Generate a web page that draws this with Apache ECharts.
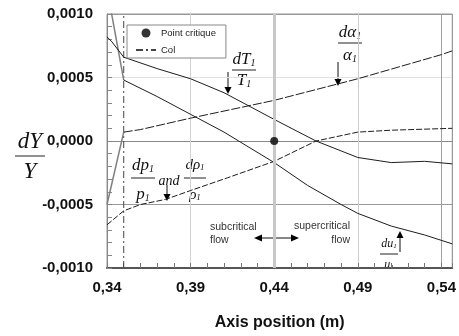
<!DOCTYPE html>
<html>
<head>
<meta charset="utf-8">
<script src="https://cdn.jsdelivr.net/npm/echarts@6/dist/echarts.min.js"></script>
<style>
  html, body { margin: 0; padding: 0; background: #fff; }
  #chart { width: 459px; height: 336px; }
</style>
</head>
<body>
<div id="chart"></div>
<script>
// axial position (m) and relative variation dY/Y for each quantity
const posDu = [0.34, 0.35, 0.37, 0.39, 0.41, 0.44, 0.46, 0.48, 0.49, 0.51, 0.53, 0.5465];
const valDu = [0.0012, 0.00048, 0.00035, 0.00021, 0.00007, -0.00017, -0.00035, -0.0005, -0.00057, -0.00067, -0.00074, -0.00081];

const posDt = [0.34, 0.343, 0.35, 0.37, 0.39, 0.41, 0.44, 0.465, 0.49, 0.51, 0.53, 0.5465];
const valDt = [0.00082, 0.00078, 0.00066, 0.00057, 0.00049, 0.00038, 0.00017, 0.0, -0.00013, -0.00017, -0.00016, -0.00018];

const posDa = [0.34, 0.35, 0.36, 0.39, 0.44, 0.49, 0.54, 0.5465];
const valDa = [-0.0005, 0.00007, 0.00009, 0.00018, 0.00032, 0.00049, 0.00068, 0.00071];

const posDp = [0.34, 0.35, 0.36, 0.375, 0.39, 0.412, 0.44, 0.465, 0.49, 0.51, 0.5465];
const valDp = [-0.00066, -0.00055, -0.0005, -0.00046, -0.00039, -0.00029, -0.00016, 0.0, 0.00007, 0.000085, 0.0001];

const colX = 0.35;
const critPoint = [0.44, 0.0];

const xMin = 0.34, xMax = 0.5465, xStep = 0.05;
const yMin = -0.001, yMax = 0.001, yStep = 0.0005;

const chart = echarts.init(document.getElementById("chart"));

function pairs(xs, ys, from, to) {
  return xs.slice(from, to).map((x, i) => [x, ys.slice(from, to)[i]]);
}

const serif = '"Liberation Serif", "DejaVu Serif", serif';
const sans = '"Liberation Sans", Arial, sans-serif';

function subRich(size) {
  return {
    s: { fontSize: size, fontFamily: serif, fontStyle: "italic", verticalAlign: "bottom", fill: "#111" }
  };
}

// fraction label: numerator, bar, denominator
function frac(cx, numY, barY, denY, halfW, num, den, size) {
  const txt = (t, y) => ({
    type: "text", x: cx, y: y, silent: true,
    style: {
      text: t, fontSize: size, fontFamily: serif, fontStyle: "italic",
      align: "center", verticalAlign: "middle", fill: "#111",
      rich: subRich(Math.round(size * 0.6))
    }
  });
  return [
    txt(num, numY),
    { type: "line", silent: true, shape: { x1: cx - halfW, y1: barY, x2: cx + halfW, y2: barY }, style: { stroke: "#222", lineWidth: 1 } },
    txt(den, denY)
  ];
}

function arrowDown(x, y1, y2) {
  return [
    { type: "line", silent: true, shape: { x1: x, y1: y1, x2: x, y2: y2 - 6 }, style: { stroke: "#111", lineWidth: 1 } },
    { type: "polygon", silent: true, shape: { points: [[x - 3.5, y2 - 7], [x + 3.5, y2 - 7], [x, y2]] }, style: { fill: "#000" } }
  ];
}

function arrowUp(x, y1, y2) {
  return [
    { type: "line", silent: true, shape: { x1: x, y1: y1 + 6, x2: x, y2: y2 }, style: { stroke: "#111", lineWidth: 1 } },
    { type: "polygon", silent: true, shape: { points: [[x - 3.5, y1 + 7], [x + 3.5, y1 + 7], [x, y1]] }, style: { fill: "#000" } }
  ];
}

const curveStyle = { color: "#1e1e1e", width: 1 };
const entryStyle = { color: "#808080", width: 1.5 };

const graphics = [].concat(
  frac(30, 142, 156, 172, 15, "dY", "Y", 23),
  frac(244, 60, 70, 81, 12, "dT{s|1}", "T{s|1}", 17),
  arrowDown(228, 72, 94),
  frac(350, 33, 43, 56, 12, "d\u03b1{s|1}", "\u03b1{s|1}", 17),
  arrowDown(338, 62, 86),
  frac(143, 166, 178, 195, 12, "dp{s|1}", "p{s|1}", 17),
  frac(195, 165, 178, 195, 11, "d\u03c1{s|1}", "\u03c1{s|1}", 15),
  [{ type: "text", x: 169, y: 181, silent: true,
     style: { text: "and", fontSize: 14, fontFamily: serif, fontStyle: "italic", align: "center", verticalAlign: "middle", fill: "#111" } }],
  arrowDown(167, 185, 201),
  frac(389, 244, 254, 265, 9, "du{s|1}", "u{s|1}", 12),
  arrowUp(400, 231, 252),
  [
    { type: "text", x: 210, y: 227, silent: true,
      style: { text: "subcritical", fontSize: 10.5, fontFamily: sans, fill: "#333", align: "left", verticalAlign: "middle" } },
    { type: "text", x: 210, y: 240, silent: true,
      style: { text: "flow", fontSize: 10.5, fontFamily: sans, fill: "#333", align: "left", verticalAlign: "middle" } },
    { type: "text", x: 350, y: 226, silent: true,
      style: { text: "supercritical", fontSize: 10.5, fontFamily: sans, fill: "#333", align: "right", verticalAlign: "middle" } },
    { type: "text", x: 350, y: 240, silent: true,
      style: { text: "flow", fontSize: 10.5, fontFamily: sans, fill: "#333", align: "right", verticalAlign: "middle" } },
    { type: "line", silent: true, shape: { x1: 258, y1: 238, x2: 295, y2: 238 }, style: { stroke: "#111", lineWidth: 1 } },
    { type: "polygon", silent: true, shape: { points: [[254, 238], [262, 234.5], [262, 241.5]] }, style: { fill: "#000" } },
    { type: "polygon", silent: true, shape: { points: [[299, 238], [291, 234.5], [291, 241.5]] }, style: { fill: "#000" } }
  ]
);

chart.setOption({
  animation: false,
  backgroundColor: "#fff",
  grid: {
    left: 107, right: 0, top: 14, bottom: 61,
    show: true, borderColor: "#999", borderWidth: 1
  },
  legend: {
    data: [
      { name: "Point critique" },
      { name: "Col", itemStyle: { opacity: 0 } }
    ],
    orient: "vertical",
    left: 127, top: 25,
    itemWidth: 20, itemHeight: 9, itemGap: 7,
    padding: [3, 10, 3, 8],
    borderColor: "#888", borderWidth: 1, backgroundColor: "#fff",
    textStyle: { fontSize: 9.5, fontFamily: sans, color: "#222" }
  },
  xAxis: {
    type: "value",
    min: xMin, max: xMax, interval: xStep,
    name: "Axis position (m)",
    nameLocation: "middle", nameGap: 47,
    nameTextStyle: { fontSize: 16, fontWeight: "bold", fontFamily: sans, color: "#111" },
    axisLine: { show: true, onZero: false, lineStyle: { color: "#555", width: 2 } },
    axisTick: { show: true, inside: true, length: 5, lineStyle: { color: "#777" } },
    minorTick: { show: true, splitNumber: 5, length: 5, lineStyle: { color: "#777" } },
    axisLabel: {
      margin: 12, fontSize: 15, fontWeight: "bold", fontFamily: sans, color: "#111",
      formatter: v => v.toFixed(2).replace(".", ",")
    },
    splitLine: { show: true, lineStyle: { color: ["#999", "#d4d4d4", "#c8c8c8", "#cccccc", "#a0a0a0"], width: 1 } }
  },
  yAxis: {
    type: "value",
    min: yMin, max: yMax, interval: yStep,
    axisLine: { show: true, onZero: false, lineStyle: { color: "#888", width: 1 } },
    axisTick: { show: true, inside: true, length: 5, lineStyle: { color: "#888" } },
    minorTick: { show: true, splitNumber: 5, length: 5, lineStyle: { color: "#888" } },
    axisLabel: {
      margin: 14, fontSize: 15, fontWeight: "bold", fontFamily: sans, color: "#111",
      formatter: v => v.toFixed(4).replace(".", ",")
    },
    splitLine: { show: true, lineStyle: { color: ["#999", "#999", "#888", "#e2e2e2", "#999"], width: 1 } }
  },
  graphic: graphics,
  series: [
    {
      name: "Col",
      type: "line",
      data: [[colX, yMin], [colX, yMax]],
      symbol: "none",
      color: "#444",
      z: 2,
      lineStyle: { color: "#444", width: 1, type: [7, 3, 2, 3] },
      markLine: {
        silent: true, symbol: "none", label: { show: false },
        lineStyle: { color: "#c8c8c8", width: 3, type: "solid" },
        data: [{ xAxis: critPoint[0] }]
      }
    },
    { name: "du entry", type: "line", data: pairs(posDu, valDu, 0, 2), symbol: "none", z: 3, lineStyle: entryStyle },
    { name: "du/u", type: "line", data: pairs(posDu, valDu, 1), symbol: "none", z: 3, lineStyle: curveStyle },
    { name: "dT/T", type: "line", data: pairs(posDt, valDt, 0), symbol: "none", z: 3, lineStyle: curveStyle },
    { name: "da entry", type: "line", data: pairs(posDa, valDa, 0, 2), symbol: "none", z: 3, lineStyle: entryStyle },
    { name: "da/a", type: "line", data: pairs(posDa, valDa, 1), symbol: "none", z: 3,
      lineStyle: Object.assign({}, curveStyle, { type: [9, 2] }) },
    { name: "dp/p", type: "line", data: pairs(posDp, valDp, 0), symbol: "none", z: 3,
      lineStyle: Object.assign({}, curveStyle, { type: [6, 2] }) },
    {
      name: "Point critique",
      type: "scatter",
      data: [critPoint],
      symbol: "circle", symbolSize: 8, symbolKeepAspect: true,
      z: 5,
      color: "#000",
      itemStyle: { color: "#000" }
    }
  ]
});

window.addEventListener("resize", () => chart.resize());
</script>
</body>
</html>
